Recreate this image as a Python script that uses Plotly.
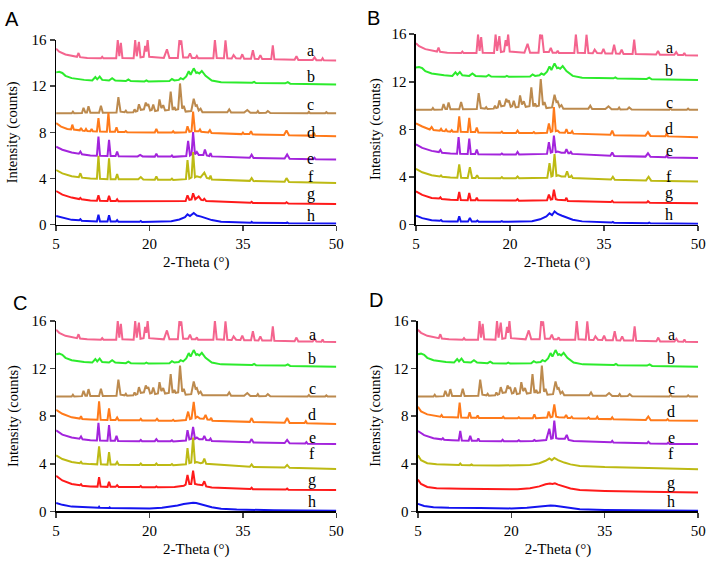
import plotly.graph_objects as go

# ---------------- data: (2-theta, intensity) vertices ----------------
trace_names = ["a", "b", "c", "d", "e", "f", "g", "h"]
trace_colors = ["#F4648E", "#2CEB2C", "#BC8A4E", "#FF7A1A", "#A324DC", "#BDBA14", "#FF1A1A", "#1414F0"]

a_pts = [(5,15.25),(5.5,15.0),(6.5,14.75),(8.0,14.58),(8.35,14.55),(8.6,14.88),(8.85,14.52),(10,14.45),(12.2,14.42),(12.4,14.55),(12.6,14.42),
         (14.65,14.42),(14.9,16.0),(15.15,14.6),(15.4,15.75),(15.65,14.45),(17.45,14.42),(17.7,16.0),(17.95,14.6),(18.3,15.85),(18.55,14.5),
         (19.05,14.55),(19.3,15.5),(19.5,15.0),(19.7,16.0),(19.95,14.55),(22.3,14.45),(22.8,15.2),(23.2,14.45),(24.55,14.45),(24.8,16.0),
         (24.95,15.6),(25.1,15.97),(25.4,14.5),(26.2,14.5),(26.5,14.85),(26.8,14.45),(27.4,14.45),(27.6,14.62),(27.8,14.42),(30.25,14.42),
         (30.5,16.0),(30.8,14.45),(31.95,14.42),(32.2,15.97),(32.5,14.42),(33.2,14.4),(33.5,14.7),(33.9,14.42),(34.6,14.4),(34.9,14.77),
         (35.2,14.38),(36.3,14.38),(36.6,15.13),(36.9,14.38),(37.5,14.36),(37.8,14.7),(38.1,14.35),(39.55,14.35),(39.8,15.55),(40.05,14.33),
         (43.3,14.3),(43.6,14.6),(43.9,14.28),(46.2,14.27),(46.5,14.5),(46.8,14.26),(47.6,14.25),(47.8,14.43),(48.0,14.24),(50,14.22)]

b_pts = [(5,13.2),(5.5,13.25),(6.0,13.15),(6.5,12.9),(7.5,12.7),(8.5,12.6),(9.5,12.55),(10.8,12.5),(11.3,12.8),(11.6,12.6),(12.0,12.83),
         (12.4,12.55),(13.5,12.5),(14.0,12.7),(14.5,12.5),(16.2,12.45),(16.6,12.58),(17.0,12.45),(19.2,12.42),(19.5,12.5),(19.8,12.42),
         (23.2,12.45),(23.6,12.62),(24.0,12.5),(24.7,12.55),(25.0,12.7),(25.4,12.6),(25.9,12.85),(26.3,13.3),(26.6,13.0),(27.1,13.55),
         (27.5,13.15),(27.7,13.2),(28.0,13.1),(28.4,13.32),(29.0,12.9),(30.0,12.5),(31.5,12.35),(36.5,12.3),(36.8,12.38),(37.1,12.28),
         (41.8,12.25),(42.2,12.35),(42.6,12.22),(50,12.15)]

c_pts = [(5,9.65),(7.5,9.65),(7.7,9.8),(7.9,9.65),(9.15,9.68),(9.4,10.13),(9.7,9.72),(9.95,9.72),(10.2,10.27),(10.5,9.7),(11.9,9.7),
         (12.2,10.3),(12.5,9.7),(14.7,9.72),(15.0,11.06),(15.35,9.8),(16.0,9.75),(16.2,9.88),(16.4,9.72),(17.4,9.75),(17.6,10.0),(17.8,9.8),
         (18.05,9.85),(18.3,10.44),(18.6,9.95),(19.1,10.0),(19.4,10.58),(19.6,10.3),(19.8,10.45),(20.1,9.9),(20.35,9.95),(20.6,10.41),
         (20.9,9.85),(21.35,9.9),(21.6,10.86),(21.9,10.1),(22.2,10.36),(22.5,9.9),(23.1,9.95),(23.4,11.54),(23.7,10.0),(23.85,10.0),
         (24.0,10.2),(24.2,9.95),(24.6,10.0),(24.9,12.24),(25.25,10.05),(25.5,10.3),(25.8,9.8),(26.7,9.85),(27.1,10.92),(27.4,10.3),
         (27.6,10.36),(27.9,9.9),(28.2,10.05),(28.5,9.75),(32.5,9.75),(32.8,10.0),(33.1,9.72),(35.2,9.72),(35.7,9.94),(36.2,9.7),
         (37.2,9.7),(37.4,9.85),(37.6,9.68),(38.7,9.7),(39.0,9.85),(39.4,9.68),(45.4,9.66),(45.6,9.78),(45.8,9.65),(48.2,9.65),
         (48.4,9.75),(48.6,9.65),(50,9.65)]

# ---- panel A ----
A_d = [(5,8.8),(5.8,8.5),(6.8,8.3),(7.4,8.25),(7.6,8.67),(7.85,8.25),(8.8,8.18),(9.0,8.39),(9.25,8.15),(9.6,8.12),(9.8,8.3),(10.0,8.12),
       (10.5,8.1),(10.7,8.3),(10.9,8.1),(11.55,8.08),(11.8,9.24),(12.05,8.08),(13.15,8.05),(13.4,9.71),(13.65,8.05),(14.45,8.05),(14.7,8.45),
       (14.95,8.03),(16.0,8.03),(16.2,8.12),(16.4,8.02),(20.85,8.0),(21.1,8.3),(21.35,8.0),(23.6,8.0),(23.8,8.1),(24.0,7.98),(25.85,8.0),
       (26.1,8.53),(26.4,8.05),(26.75,8.1),(27.0,9.8),(27.3,8.1),(27.9,8.1),(28.1,8.25),(28.3,8.05),(29.45,8.0),(29.7,8.2),(29.95,7.95),
       (34.8,7.85),(35.0,7.98),(35.2,7.85),(36.05,7.85),(36.3,8.1),(36.55,7.83),(41.6,7.78),(42.0,8.17),(42.4,7.76),(46.2,7.72),(46.4,7.97),
       (46.6,7.7),(50,7.66)]
A_e = [(5,6.76),(6,6.5),(7.5,6.25),(8.65,6.15),(8.9,6.34),(9.15,6.1),(10.5,6.0),(11.55,5.98),(11.8,7.64),(12.05,5.98),(13.25,5.95),
       (13.5,7.35),(13.75,5.95),(14.55,5.95),(14.8,6.34),(15.05,5.93),(18.1,5.92),(18.5,6.05),(18.9,5.92),(20.85,5.9),(21.1,6.15),(21.35,5.9),
       (23.4,5.9),(23.6,6.0),(23.8,5.88),(25.9,5.95),(26.2,7.27),(26.5,6.0),(26.75,6.1),(27.0,8.03),(27.3,6.1),(27.6,6.3),(27.9,6.05),
       (28.65,6.05),(28.9,6.51),(29.2,6.0),(29.6,5.95),(29.8,6.2),(30.0,5.92),(36.1,5.8),(36.4,6.06),(36.7,5.78),(41.7,5.73),(42.1,6.09),
       (42.5,5.72),(46.3,5.68),(46.5,5.8),(46.7,5.67),(50,5.64)]
A_f = [(5,4.74),(6,4.45),(7.5,4.2),(8.65,4.12),(8.9,4.46),(9.15,4.08),(10.5,4.0),(11.55,3.98),(11.8,5.98),(12.05,3.98),(13.25,3.95),
       (13.5,5.75),(13.75,3.95),(14.55,3.95),(14.8,4.4),(15.05,3.93),(18.2,3.93),(18.6,4.13),(19.0,3.92),(20.85,3.9),(21.1,4.18),(21.35,3.9),
       (23.4,3.9),(23.6,4.0),(23.8,3.88),(25.85,3.95),(26.1,5.59),(26.4,4.0),(26.75,4.1),(27.0,6.29),(27.3,4.1),(27.6,4.2),(28.2,4.1),
       (28.8,4.52),(29.2,4.05),(29.6,4.0),(29.8,4.25),(30.0,3.92),(36.1,3.8),(36.4,4.04),(36.7,3.78),(41.7,3.72),(42.0,4.04),(42.4,3.7),
       (50,3.62)]
A_g = [(5,2.92),(6,2.6),(7.5,2.35),(8.7,2.22),(8.9,2.32),(9.1,2.2),(10.5,2.1),(11.55,2.08),(11.8,2.55),(12.05,2.07),(13.25,2.05),
       (13.5,2.5),(13.75,2.05),(14.6,2.05),(14.8,2.2),(15.0,2.03),(25.8,2.05),(26.1,2.55),(26.4,2.15),(26.75,2.2),(27.0,2.72),(27.35,2.2),
       (27.9,2.44),(28.3,2.15),(28.6,2.12),(28.8,2.25),(29.1,2.05),(36.2,1.9),(36.4,1.98),(36.6,1.88),(41.8,1.85),(42.0,1.95),(42.3,1.83),
       (50,1.8)]
A_h = [(5,0.76),(6,0.6),(7.5,0.42),(8.7,0.38),(8.9,0.48),(9.1,0.35),(10.5,0.3),(11.55,0.28),(11.8,0.87),(12.05,0.28),(13.25,0.27),
       (13.5,0.81),(13.75,0.27),(14.6,0.27),(14.8,0.4),(15.0,0.25),(18.4,0.25),(18.6,0.32),(18.8,0.24),(21.0,0.24),(21.1,0.3),(21.3,0.24),
       (23.5,0.3),(24.8,0.45),(25.7,0.65),(26.1,0.9),(26.5,0.75),(27.1,1.01),(27.6,0.8),(28.3,0.7),(29.0,0.55),(30.0,0.4),(31.5,0.25),
       (36.3,0.18),(36.4,0.25),(36.6,0.16),(42.0,0.15),(42.1,0.2),(42.3,0.13),(50,0.11)]

# ---- panel B ----
B_d = [(5,8.52),(6,8.25),(7.2,8.0),(7.5,8.2),(7.8,7.95),(8.8,7.9),(9.0,8.05),(9.2,7.88),(9.6,7.85),(9.8,8.0),(10.0,7.85),(10.5,7.82),
       (10.7,7.95),(10.9,7.8),(11.65,7.8),(11.9,9.11),(12.15,7.8),(13.25,7.78),(13.5,8.98),(13.75,7.78),(14.45,7.78),(14.7,8.16),(14.95,7.75),
       (18.5,7.72),(18.7,7.82),(18.9,7.7),(20.95,7.7),(21.2,7.9),(21.45,7.7),(23.6,7.7),(23.8,7.78),(24.0,7.68),(25.9,7.72),(26.2,8.5),
       (26.5,7.8),(26.75,7.85),(27.0,9.88),(27.3,7.85),(27.6,7.9),(27.9,7.75),(28.75,7.72),(29.0,8.03),(29.25,7.7),(29.7,7.7),(29.9,7.85),
       (30.1,7.65),(36.0,7.55),(36.3,7.9),(36.6,7.52),(41.6,7.48),(42.0,7.78),(42.4,7.46),(44.8,7.44),(45.0,7.7),(45.2,7.42),(50,7.35)]
B_e = [(5,6.75),(6,6.45),(7.5,6.2),(8.65,6.1),(8.9,6.29),(9.15,6.05),(10.5,5.98),(11.55,5.96),(11.8,7.37),(12.05,5.96),(13.25,5.94),
       (13.5,7.24),(13.75,5.94),(14.45,5.94),(14.7,6.31),(14.95,5.92),(18.5,5.9),(18.7,5.98),(18.9,5.9),(20.95,5.9),(21.2,6.12),(21.45,5.9),
       (25.9,5.95),(26.2,6.94),(26.5,6.05),(26.75,6.1),(27.0,7.48),(27.3,6.1),(27.6,6.15),(28.2,6.05),(28.75,6.05),(29.0,6.34),(29.3,6.0),
       (29.5,6.0),(29.7,6.12),(29.9,5.95),(36.0,5.8),(36.3,6.07),(36.6,5.78),(41.6,5.72),(42.0,6.0),(42.4,5.7),(44.8,5.66),(45.0,5.82),
       (45.2,5.65),(50,5.6)]
B_f = [(5,4.7),(6,4.4),(7.5,4.15),(8.8,4.05),(9.0,4.14),(9.2,4.02),(10.5,3.97),(11.6,3.95),(11.9,5.06),(12.2,3.95),(13.25,3.93),
       (13.6,4.84),(13.95,3.93),(14.5,3.93),(14.75,4.16),(15.0,3.92),(18.5,3.9),(18.7,4.0),(18.9,3.9),(20.95,3.9),(21.2,4.05),(21.45,3.9),
       (25.95,3.95),(26.3,5.17),(26.6,4.05),(26.8,4.1),(27.1,5.93),(27.4,4.1),(27.7,4.15),(28.2,4.05),(28.8,4.05),(29.1,4.49),(29.4,4.0),
       (29.6,4.0),(29.8,4.12),(30.0,3.92),(36.1,3.8),(36.4,4.03),(36.7,3.78),(41.7,3.72),(42.1,4.03),(42.5,3.7),(50,3.62)]
B_g = [(5,2.8),(6,2.5),(7.5,2.25),(8.7,2.2),(8.9,2.3),(9.1,2.15),(10.5,2.1),(11.65,2.08),(11.9,2.75),(12.15,2.08),(13.25,2.06),
       (13.5,2.67),(13.75,2.06),(14.5,2.06),(14.7,2.26),(14.9,2.05),(20.95,2.03),(21.2,2.15),(21.4,2.02),(25.9,2.05),(26.2,2.53),(26.5,2.12),
       (26.75,2.15),(27.0,2.94),(27.3,2.15),(27.6,2.1),(28.8,2.05),(29.0,2.26),(29.2,2.0),(36.1,1.9),(36.3,2.0),(36.5,1.88),(41.8,1.86),
       (42.0,1.98),(42.3,1.84),(50,1.8)]
B_h = [(5,0.76),(6,0.55),(7.5,0.38),(8.8,0.33),(9.0,0.4),(9.2,0.3),(10.5,0.28),(11.65,0.27),(11.9,0.71),(12.15,0.27),(13.3,0.26),
       (13.6,0.57),(13.9,0.26),(14.6,0.26),(14.8,0.35),(15.0,0.25),(18.5,0.25),(18.7,0.3),(18.9,0.24),(21.0,0.25),(21.2,0.3),(21.4,0.25),
       (23.5,0.3),(24.8,0.45),(25.8,0.7),(26.3,0.95),(26.7,0.8),(27.1,1.12),(27.6,0.9),(28.3,0.75),(29.0,0.6),(30.0,0.42),(31.5,0.28),
       (36.2,0.18),(36.4,0.24),(36.6,0.16),(42.0,0.13),(42.2,0.18),(42.4,0.12),(50,0.08)]

# ---- panel C ----
C_d = [(5,8.52),(6,8.2),(7.5,7.9),(8.8,7.8),(9.0,8.0),(9.2,7.75),(10.5,7.72),(11.65,7.7),(11.9,9.25),(12.15,7.7),(13.25,7.68),(13.5,8.65),
       (13.75,7.68),(14.55,7.68),(14.8,7.89),(15.05,7.66),(18.4,7.65),(18.6,7.78),(18.8,7.64),(20.95,7.63),(21.2,7.78),(21.45,7.62),
       (23.6,7.62),(23.8,7.7),(24.0,7.6),(25.85,7.68),(26.2,8.38),(26.5,7.75),(26.75,7.8),(27.1,9.2),(27.4,7.85),(27.7,7.95),(28.1,7.8),
       (28.7,7.78),(29.0,8.1),(29.3,7.72),(29.7,7.7),(29.9,7.85),(30.1,7.62),(36.1,7.52),(36.4,7.84),(36.7,7.5),(41.7,7.45),(42.1,7.84),
       (42.5,7.43),(44.9,7.42),(45.1,7.58),(45.3,7.4),(50,7.35)]
C_e = [(5,6.8),(6,6.45),(7.5,6.2),(8.75,6.1),(9.0,6.29),(9.25,6.05),(10.5,5.98),(11.55,5.96),(11.8,7.43),(12.05,5.96),(13.25,5.94),
       (13.5,7.24),(13.75,5.94),(14.45,5.94),(14.7,6.34),(14.95,5.92),(18.4,5.9),(18.6,6.0),(18.8,5.9),(20.85,5.9),(21.1,6.07),(21.35,5.9),
       (23.4,5.9),(23.6,5.98),(23.8,5.88),(25.85,5.95),(26.1,6.83),(26.4,6.05),(26.7,6.1),(27.0,7.1),(27.3,6.1),(27.6,6.2),(28.0,6.05),
       (28.55,6.05),(28.8,6.34),(29.1,6.0),(29.6,5.98),(29.8,6.12),(30.0,5.92),(36.1,5.8),(36.4,6.07),(36.7,5.78),(41.7,5.74),(42.1,6.0),
       (42.5,5.72),(45.0,5.7),(45.2,5.82),(45.4,5.68),(50,5.66)]
C_f = [(5,4.71),(6,4.4),(7.5,4.15),(8.8,4.05),(9.0,4.16),(9.2,4.02),(10.5,3.97),(11.6,3.95),(11.9,5.47),(12.2,3.95),(13.25,3.93),
       (13.5,4.98),(13.75,3.93),(14.55,3.93),(14.8,4.15),(15.05,3.92),(18.4,3.9),(18.6,4.02),(18.8,3.9),(20.9,3.9),(21.1,4.02),(21.3,3.9),
       (23.4,3.9),(23.6,3.98),(23.8,3.88),(25.85,3.95),(26.1,5.31),(26.4,4.05),(26.7,4.1),(27.0,6.2),(27.3,4.1),(27.6,4.15),(28.2,4.05),
       (28.55,4.1),(28.8,4.44),(29.1,4.0),(36.1,3.75),(36.4,3.95),(36.7,3.73),(41.7,3.68),(42.1,3.9),(42.5,3.66),(50,3.56)]
C_g = [(5,2.99),(6,2.6),(7.5,2.3),(8.8,2.2),(9.0,2.28),(9.2,2.15),(10.5,2.1),(11.65,2.08),(11.9,2.88),(12.15,2.08),(13.25,2.06),
       (13.5,2.48),(13.75,2.06),(14.55,2.06),(14.8,2.2),(15.05,2.05),(18.4,2.04),(18.6,2.12),(18.8,2.03),(20.9,2.02),(21.1,2.1),(21.3,2.02),
       (24.0,2.05),(25.5,2.15),(25.8,2.25),(26.1,3.07),(26.4,2.3),(26.7,2.3),(27.0,3.43),(27.3,2.3),(27.7,2.25),(28.5,2.2),(28.8,2.53),
       (29.1,2.1),(30.0,2.0),(36.2,1.88),(36.4,1.98),(36.6,1.86),(41.9,1.84),(42.1,1.92),(42.3,1.82),(50,1.8)]
C_h = [(5,0.71),(6,0.55),(7.5,0.4),(10,0.32),(11.8,0.3),(11.9,0.38),(12.0,0.3),(13.5,0.28),(13.6,0.33),(13.7,0.28),(16,0.25),(20,0.25),
       (22,0.3),(23.5,0.4),(24.5,0.5),(25.5,0.62),(26.5,0.7),(27.0,0.72),(27.5,0.7),(28.2,0.6),(29.0,0.5),(30.0,0.35),(31.5,0.22),
       (34,0.15),(40,0.1),(50,0.05)]

# ---- panel D ----
D_d = [(5,8.79),(5.5,8.4),(6.5,8.15),(8.0,8.0),(8.6,7.95),(8.8,8.1),(9.0,7.93),(10.5,7.9),(11.45,7.88),(11.7,9.14),(11.95,7.88),
       (13.05,7.87),(13.3,8.33),(13.55,7.87),(14.4,7.86),(14.6,8.05),(14.8,7.85),(18.5,7.84),(18.7,7.95),(18.9,7.83),(21.0,7.82),(21.2,7.9),
       (21.4,7.82),(23.45,7.82),(23.7,8.16),(23.95,7.82),(25.75,7.88),(26.0,8.38),(26.3,7.9),(26.6,7.95),(26.9,8.98),(27.2,7.95),(27.6,7.9),
       (28.55,7.88),(28.8,8.1),(29.05,7.85),(29.5,7.85),(29.7,7.95),(29.9,7.82),(32.2,7.8),(32.4,7.9),(32.6,7.78),(33.6,7.78),(33.8,7.95),
       (34.0,7.76),(36.0,7.75),(36.2,7.9),(36.4,7.73),(41.6,7.68),(42.0,7.97),(42.4,7.66),(44.9,7.65),(45.1,7.75),(45.3,7.64),(50,7.62)]
D_e = [(5,6.75),(6,6.4),(7.5,6.15),(8.8,6.05),(9.0,6.15),(9.2,6.02),(10.5,5.98),(11.55,5.96),(11.8,6.75),(12.05,5.96),(13.15,5.94),
       (13.4,6.34),(13.65,5.94),(14.5,5.94),(14.7,6.12),(14.9,5.92),(18.4,5.9),(18.6,6.02),(18.8,5.9),(21.0,5.9),(21.2,5.98),(21.4,5.9),
       (23.5,5.92),(23.7,6.0),(23.9,5.92),(25.6,6.0),(26.1,6.94),(26.4,6.1),(26.65,6.15),(26.9,7.62),(27.2,6.15),(27.6,6.1),(28.6,6.1),
       (28.9,6.42),(29.2,6.0),(30.0,5.92),(36.0,5.8),(36.2,5.92),(36.4,5.78),(41.8,5.72),(42.0,5.85),(42.3,5.7),(45.0,5.68),(45.2,5.78),
       (45.4,5.67),(50,5.66)]
D_f = [(5,4.71),(5.5,4.3),(6.5,4.05),(8,3.95),(11.6,3.9),(11.8,4.02),(12.0,3.9),(13.4,3.88),(13.6,3.95),(13.8,3.88),(18,3.85),(21,3.85),
       (23,3.9),(24.5,4.05),(25.5,4.25),(26.1,4.44),(26.5,4.3),(26.9,4.49),(27.5,4.3),(28.5,4.1),(29.5,3.95),(31,3.82),(35,3.72),(42,3.65),
       (50,3.54)]
D_g = [(5,2.67),(5.5,2.3),(6.5,2.05),(8,1.95),(12,1.9),(18,1.85),(21,1.85),(23,1.95),(24.5,2.1),(25.5,2.28),(26.2,2.34),(26.6,2.3),
       (27.0,2.36),(27.5,2.25),(28.5,2.1),(29.5,1.92),(31,1.8),(35,1.72),(42,1.65),(50,1.58)]
D_h = [(5,0.63),(6,0.45),(7.5,0.35),(10,0.3),(15,0.28),(20,0.25),(22.5,0.3),(24,0.38),(25.5,0.47),(26.3,0.49),(27.0,0.47),(28,0.4),
       (29.5,0.28),(31,0.18),(35,0.12),(42,0.08),(50,0.05)]

panel_letters = ["A", "B", "C", "D"]
panel_data = {
    "A": [a_pts, b_pts, c_pts, A_d, A_e, A_f, A_g, A_h],
    "B": [a_pts, b_pts, c_pts, B_d, B_e, B_f, B_g, B_h],
    "C": [a_pts, b_pts, c_pts, C_d, C_e, C_f, C_g, C_h],
    "D": [a_pts, b_pts, c_pts, D_d, D_e, D_f, D_g, D_h],
}
# label positions (x, y per trace) for each panel
label_x = {"A": 45.9, "B": 45.4, "C": 46.1, "D": 45.7}
label_y = {
    "A": [15.1, 12.86, 10.42, 8.01, 5.77, 4.17, 2.69, 0.81],
    "B": [14.9, 12.93, 10.29, 8.1, 6.2, 4.03, 2.67, 0.82],
    "C": [14.9, 12.87, 10.29, 8.1, 6.2, 4.84, 2.67, 0.82],
    "D": [14.9, 12.87, 10.29, 8.38, 6.2, 4.84, 2.39, 0.82],
}
x_ticks = [5, 20, 35, 50]
y_ticks = [0, 4, 8, 12, 16]

# ---------------- layout geometry ----------------
W, H = 714, 567
# pixel boxes: (left, right, top, bottom)
boxes = {"A": (53, 338, 33, 223), "B": (419, 706, 27, 223),
         "C": (53, 338, 322, 518), "D": (421, 706, 322, 518)}
letter_pos = {"A": (8, 11), "B": (376, 10), "C": (16, 304), "D": (378, 300)}
ytitle_x = {"A": 9, "B": 378, "C": 9, "D": 378}

SERIF = "Liberation Serif"
SANS = "Liberation Sans"

fig = go.Figure()
layout = dict(width=W, height=H, margin=dict(l=0, r=0, t=0, b=0),
              paper_bgcolor="white", plot_bgcolor="white", showlegend=False,
              font=dict(family=SERIF, size=14, color="black"))
annotations = []

for i, p in enumerate(panel_letters):
    sfx = "" if i == 0 else str(i + 1)
    xa, ya = "x" + sfx, "y" + sfx
    l, r, t, b = boxes[p]
    layout["xaxis" + sfx] = dict(domain=[l / W, r / W], range=[5, 50], anchor=ya,
                                 tickvals=x_ticks, ticks="outside", ticklen=5, tickwidth=1.5,
                                 showline=True, linecolor="black", linewidth=1.5,
                                 showgrid=False, zeroline=False, ticklabeloverflow="allow",
                                 tickfont=dict(family=SERIF, size=15, color="black"),
                                 title=dict(text="2-Theta (°)", font=dict(family=SERIF, size=15, color="black"), standoff=5))
    layout["yaxis" + sfx] = dict(domain=[1 - b / H, 1 - t / H], range=[0, 16], anchor=xa,
                                 tickvals=y_ticks, ticks="outside", ticklen=5, tickwidth=1.5,
                                 showline=True, linecolor="black", linewidth=1.5,
                                 showgrid=False, zeroline=False,
                                 tickfont=dict(family=SERIF, size=15, color="black"))
    # y title as annotation for exact placement
    annotations.append(dict(text="Intensity (counts)", xref="paper", yref="paper",
                            x=ytitle_x[p] / W, y=1 - ((t + b) / 2) / H, textangle=-90,
                            showarrow=False, font=dict(family=SERIF, size=14.5, color="black"),
                            xanchor="center", yanchor="middle"))
    for k, pts in enumerate(panel_data[p]):
        fig.add_trace(go.Scatter(x=[q[0] for q in pts], y=[q[1] for q in pts], mode="lines",
                                 line=dict(color=trace_colors[k], width=2),
                                 xaxis=xa, yaxis=ya, hoverinfo="skip"))
        annotations.append(dict(text=trace_names[k], x=label_x[p], y=label_y[p][k], xref=xa, yref=ya,
                                showarrow=False, font=dict(family=SERIF, size=16, color="black"),
                                xanchor="center", yanchor="middle"))
    lx, ly = letter_pos[p]
    annotations.append(dict(text=p, xref="paper", yref="paper", x=lx / W, y=1 - ly / H,
                            showarrow=False, font=dict(family=SANS, size=20, color="black"),
                            xanchor="center", yanchor="middle"))

layout["annotations"] = annotations
fig.update_layout(**layout)
fig.write_html("out.html", config={"displayModeBar": False, "staticPlot": True},
               post_script="document.body.style.margin='0';document.body.style.overflow='hidden';")
